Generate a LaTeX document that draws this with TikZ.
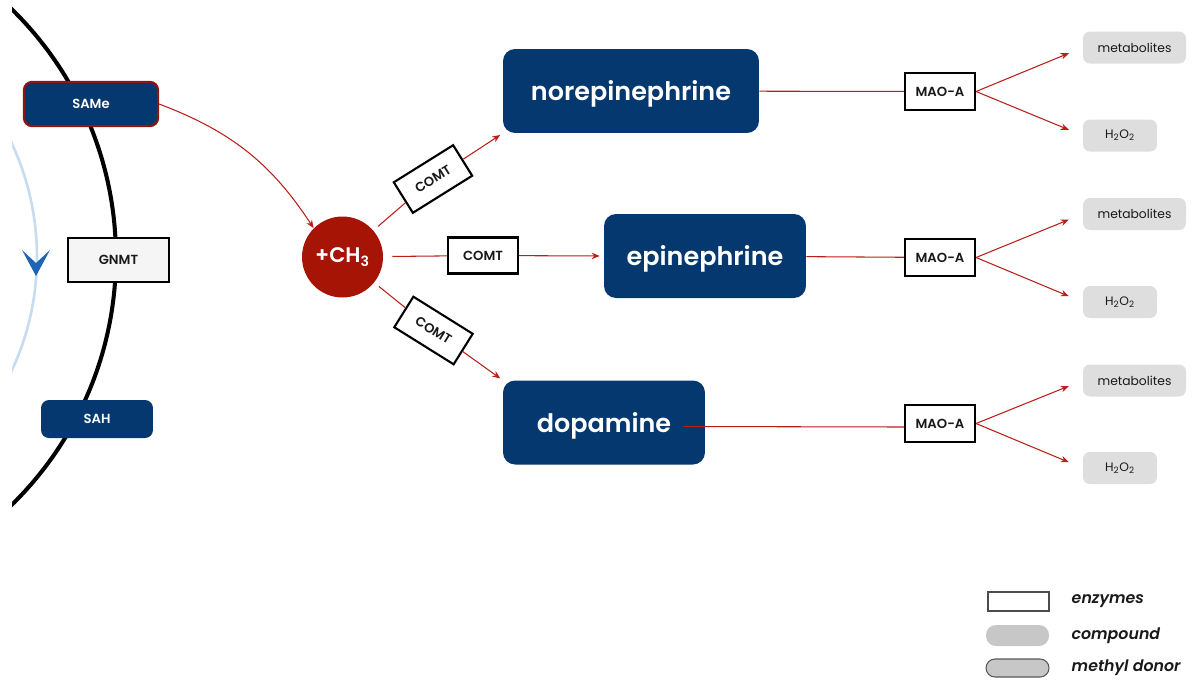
\documentclass[tikz,border=0pt]{standalone}
\usepackage{fontspec}
\setmainfont{Poppins}[BoldFont={Poppins SemiBold}, BoldItalicFont={Poppins SemiBold Italic}]
\usepackage{tikz}
\usetikzlibrary{positioning,arrows.meta,shapes,calc}
\usepackage{xcolor}
\definecolor{NavyBlue}{RGB}{5,56,110}
\definecolor{DonorRed}{RGB}{140,22,22}
\definecolor{MethylRed}{RGB}{165,20,5}
\definecolor{ArrowRed}{RGB}{185,30,25}
\definecolor{LightGray}{RGB}{222,222,222}
\definecolor{VeryLightGray}{RGB}{245,245,245}
\definecolor{CycleBlue}{RGB}{200,220,240}
\definecolor{TipBlue}{RGB}{30,100,180}
\definecolor{TextBlack}{RGB}{25,25,25}

\begin{document}
\begin{tikzpicture}[x=0.02cm, y=-0.02cm,
    amine/.style={rectangle, fill=NavyBlue, rounded corners=0.24cm,
                  minimum width=4.04cm, minimum height=1.68cm, text depth=0pt,
                  text=white, font=\bfseries\fontsize{14.5}{17}\selectfont},
    cofactor/.style={rectangle, fill=NavyBlue, rounded corners=0.16cm,
                     minimum height=0.76cm, text=white,
                     font=\bfseries\fontsize{7.5}{9}\selectfont},
    enzyme/.style={rectangle, draw=black, line width=1.2pt, fill=white,
                   minimum width=1.4cm, minimum height=0.72cm, text=TextBlack,
                   font=\bfseries\fontsize{7.5}{9}\selectfont},
    product/.style={rectangle, fill=LightGray, rounded corners=0.14cm,
                    minimum width=1.48cm, minimum height=0.64cm, text=TextBlack,
                    font=\fontsize{7}{8}\selectfont},
    legtext/.style={font=\bfseries\itshape\fontsize{9}{11}\selectfont, text=TextBlack},
    link/.style={draw=ArrowRed, line width=0.6pt},
    arrow/.style={-{Stealth[length=1.6mm, width=1.3mm]}, draw=ArrowRed, line width=0.6pt}
]
    \useasboundingbox (0,0) rectangle (1192,680);

    % methylation cycle
    \begin{scope}
        \clip (12,0) rectangle (400,680);
        \draw[CycleBlue, line width=1.5pt] (-231,257) circle[radius=5.36cm];
        \draw[black, line width=2.3pt] (-231,257) circle[radius=6.94cm];
    \end{scope}
    \fill[TipBlue] (22,250) -- (36,263) -- (50,250) -- (36,276) -- cycle;

    \node[cofactor, draw=DonorRed, line width=1.3pt, minimum width=2.68cm,
          minimum height=0.88cm] (same) at (91,104) {SAMe};
    \node[enzyme, fill=VeryLightGray, line width=1.4pt, minimum width=2.02cm,
          minimum height=0.88cm] (gnmt) at (118.5,260) {GNMT};
    \node[cofactor, minimum width=2.24cm] (sah) at (97,419) {SAH};

    % methyl group
    \node[circle, fill=MethylRed, minimum size=1.62cm, text=white,
          font=\bfseries\fontsize{12}{14}\selectfont] (ch3) at (342.5,257) {+CH\textsubscript{3}};
    \draw[arrow] (same.east) to[bend left=18] (ch3.north west);

    % catecholamines
    \node[amine, minimum width=5.12cm] (nor) at (631,91) {norepinephrine};
    \node[amine] (epi) at (705,256) {epinephrine};
    \node[amine] (dop) at (604,422.5) {dopamine};

    \node[enzyme, rotate=32] (comt1) at (433,179) {COMT};
    \node[enzyme] (comt2) at (483,255.5) {COMT};
    \node[enzyme, rotate=-32] (comt3) at (433.5,330.5) {COMT};

    \draw[link, shorten <=0.12cm] (ch3) -- (comt1);
    \draw[arrow, shorten >=0.06cm] (comt1) -- (nor.south west);
    \draw[link, shorten <=0.18cm] (ch3) -- (comt2);
    \draw[arrow, shorten >=0.08cm] (comt2) -- (epi.west);
    \draw[link, shorten <=0.12cm] (ch3) -- (comt3);
    \draw[arrow, shorten >=0.06cm] (comt3) -- (dop.north west);

    % breakdown by MAO-A
    \node[enzyme, minimum height=0.74cm] (mao1) at (940,91.5) {MAO-A};
    \node[enzyme, minimum height=0.74cm] (mao2) at (940,257.5) {MAO-A};
    \node[enzyme, minimum height=0.74cm] (mao3) at (940,423.5) {MAO-A};

    \node[product, minimum width=2.06cm] (met1) at (1134.5,47.5) {metabolites};
    \node[product] (hyd1) at (1120,135.5) {H\textsubscript{2}O\textsubscript{2}};
    \node[product, minimum width=2.06cm] (met2) at (1134.5,214) {metabolites};
    \node[product] (hyd2) at (1120,302) {H\textsubscript{2}O\textsubscript{2}};
    \node[product, minimum width=2.06cm] (met3) at (1134.5,380.5) {metabolites};
    \node[product] (hyd3) at (1120,468) {H\textsubscript{2}O\textsubscript{2}};

    \draw[link] (nor) -- (mao1);
    \draw[link] (epi) -- (mao2);
    \draw[link] ([xshift=-0.44cm, yshift=-0.08cm]dop.east) -- (mao3.west |- {0,427});

    \draw[arrow, shorten >=0.3cm] (mao1.east) -- (met1.west);
    \draw[arrow, shorten >=0.3cm] (mao1.east) -- (hyd1.west);
    \draw[arrow, shorten >=0.3cm] (mao2.east) -- (met2.west);
    \draw[arrow, shorten >=0.3cm] (mao2.east) -- (hyd2.west);
    \draw[arrow, shorten >=0.3cm] (mao3.east) -- (met3.west);
    \draw[arrow, shorten >=0.3cm] (mao3.east) -- (hyd3.west);

    % legend
    \node[rectangle, draw=black!70, fill=white, line width=0.6pt,
          minimum width=1.22cm, minimum height=0.38cm] (legenz) at (1018.5,601.5) {};
    \node[rectangle, fill=black!22, rounded corners=0.2cm,
          minimum width=1.26cm, minimum height=0.42cm] (legcomp) at (1017.5,635.5) {};
    \node[rectangle, draw=black!65, fill=black!22, line width=0.6pt, rounded corners=0.18cm,
          minimum width=1.26cm, minimum height=0.36cm] (legdonor) at (1017.5,668) {};
    \node[legtext, right=0.32cm of legenz] (legenzlabel) {enzymes};
    \node[legtext, right=0.32cm of legcomp] (legcomplabel) {compound};
    \node[legtext, right=0.32cm of legdonor] (legdonorlabel) {methyl donor};
\end{tikzpicture}
\end{document}
